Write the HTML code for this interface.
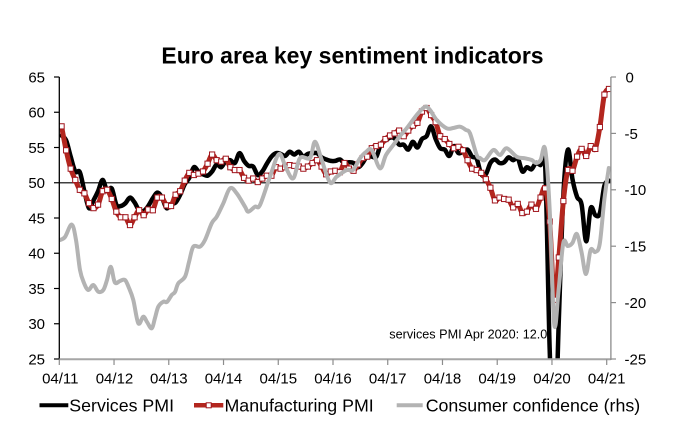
<!DOCTYPE html>
<html>
<head>
<meta charset="utf-8">
<style>
  html,body{margin:0;padding:0;background:#fff;}
  svg{display:block;}
  text{font-family:"Liberation Sans",Arial,sans-serif;fill:#000;}
</style>
</head>
<body>
<svg id="c" width="681" height="447" viewBox="0 0 681 447" xmlns="http://www.w3.org/2000/svg">
  <rect x="0" y="0" width="681" height="447" fill="#fff"/>
  <defs>
    <clipPath id="plot"><rect x="59.3" y="70" width="551.5" height="289.3"/></clipPath>
  </defs>

  <text x="352.5" y="63.5" font-size="23" font-weight="bold" text-anchor="middle">Euro area key sentiment indicators</text>

  <line x1="59.3" y1="182.8" x2="610.7" y2="182.8" stroke="#000" stroke-width="1.2"/>

  <g id="series" clip-path="url(#plot)"></g>

  <line x1="59.3" y1="77" x2="59.3" y2="359.5" stroke="#000" stroke-width="1.3"/>
  <line x1="59.3" y1="359.3" x2="610.7" y2="359.3" stroke="#a6a6a6" stroke-width="2"/>
  <line x1="610.9" y1="77" x2="610.9" y2="360" stroke="#8c8c8c" stroke-width="1.3"/>
  <g id="ticks"></g>

  <g font-size="15" text-anchor="end">
    <text x="45" y="82.4">65</text>
    <text x="45" y="117.7">60</text>
    <text x="45" y="152.9">55</text>
    <text x="45" y="188.2">50</text>
    <text x="45" y="223.4">45</text>
    <text x="45" y="258.7">40</text>
    <text x="45" y="293.9">35</text>
    <text x="45" y="329.2">30</text>
    <text x="45" y="364.4">25</text>
  </g>
  <g font-size="15" text-anchor="start">
    <text x="625.5" y="82.4">0</text>
    <text x="624.5" y="138.8">-5</text>
    <text x="624.5" y="195.2">-10</text>
    <text x="624.5" y="251.6">-15</text>
    <text x="624.5" y="308">-20</text>
    <text x="624.5" y="364.4">-25</text>
  </g>
  <g font-size="15" text-anchor="middle">
    <text x="60.3" y="383.5">04/11</text>
    <text x="114.5" y="383.5">04/12</text>
    <text x="168.8" y="383.5">04/13</text>
    <text x="223.5" y="383.5">04/14</text>
    <text x="278.3" y="383.5">04/15</text>
    <text x="333" y="383.5">04/16</text>
    <text x="387.7" y="383.5">04/17</text>
    <text x="442.5" y="383.5">04/18</text>
    <text x="497.2" y="383.5">04/19</text>
    <text x="552" y="383.5">04/20</text>
    <text x="606.7" y="383.5">04/21</text>
  </g>

  <text x="389.3" y="338.5" font-size="13" textLength="158" lengthAdjust="spacingAndGlyphs">services PMI Apr 2020: 12.0</text>

  <line x1="39.5" y1="405.3" x2="68.3" y2="405.3" stroke="#000" stroke-width="4"/>
  <text x="69.3" y="411.3" font-size="17.8">Services PMI</text>
  <line x1="194" y1="405.3" x2="223.3" y2="405.3" stroke="#b3261e" stroke-width="4.5"/>
  <rect x="206.2" y="402.8" width="5" height="5" fill="#fff" stroke="#a0141c" stroke-width="1"/>
  <text x="224.5" y="411.3" font-size="17.8">Manufacturing PMI</text>
  <line x1="396.7" y1="405.3" x2="422.7" y2="405.3" stroke="#b3b3b3" stroke-width="4"/>
  <text x="425.7" y="411.3" font-size="17.8">Consumer confidence (rhs)</text>
</svg>
<script>
(function(){
  var NS="http://www.w3.org/2000/svg";
  function X(i){return 59.3+4.5617*(i+0.5);}
  function YL(v){return 77+(65-v)*7.05;}
  function smooth(p){
    var d="M"+p[0][0].toFixed(2)+","+p[0][1].toFixed(2);
    for(var i=0;i<p.length-1;i++){
      var p0=p[i-1]||p[i],p1=p[i],p2=p[i+1],p3=p[i+2]||p[i+1];
      var c1x=p1[0]+(p2[0]-p0[0])/6,c1y=p1[1]+(p2[1]-p0[1])/6;
      var c2x=p2[0]-(p3[0]-p1[0])/6,c2y=p2[1]-(p3[1]-p1[1])/6;
      d+=" C"+c1x.toFixed(2)+","+c1y.toFixed(2)+" "+c2x.toFixed(2)+","+c2y.toFixed(2)+" "+p2[0].toFixed(2)+","+p2[1].toFixed(2);
    }
    return d;
  }
  var S=[56.7,56.0,53.7,51.6,51.5,48.8,46.4,47.5,48.8,
  50.4,48.8,49.2,46.9,46.7,47.1,47.9,47.2,46.1,46.0,46.7,47.8,
  48.6,47.9,46.4,47.0,47.2,48.3,49.8,50.7,52.2,51.6,51.2,51.0,
  51.6,52.6,52.2,53.1,53.2,52.8,54.2,53.1,52.4,52.3,51.1,51.6,
  52.7,53.7,54.2,54.1,53.8,54.4,54.0,54.4,53.7,54.1,54.2,54.2,
  53.6,53.3,53.1,53.1,53.3,52.8,52.9,52.8,52.2,52.8,53.8,53.7,
  53.7,55.5,56.0,56.4,56.3,55.4,55.4,54.7,55.8,55.0,56.2,56.6,
  58.0,56.2,54.9,54.7,53.8,55.2,54.2,54.4,54.7,53.7,53.4,51.2,
  51.2,52.8,53.3,52.8,52.9,53.6,53.2,53.5,51.6,52.2,51.9,52.8,
  52.5,52.6,26.4,12.0,30.5,48.3,54.7,50.5,48.0,46.9,41.7,46.4,
  45.4,45.7,49.6,50.3];
  var M=[58.0,54.6,52.0,50.4,49.0,48.5,47.1,46.4,46.9,
  48.8,49.0,47.7,45.9,45.1,45.1,44.0,45.1,46.1,45.4,46.2,46.1,
  47.9,47.9,46.8,46.7,48.3,48.8,50.3,51.4,51.1,51.3,51.6,52.7,
  54.0,53.2,53.0,53.4,52.2,51.8,51.8,50.7,50.3,50.6,50.1,50.6,
  51.0,51.0,52.2,52.0,52.2,52.5,52.4,52.3,52.0,52.3,52.8,53.2,
  52.3,51.2,51.6,51.7,51.5,52.8,52.0,51.7,52.6,53.5,53.7,54.9,
  55.2,55.4,56.2,56.7,57.0,57.4,56.6,57.4,58.1,58.5,60.1,60.6,
  59.6,58.6,56.6,56.2,55.5,54.9,55.1,54.6,53.2,52.0,51.8,51.4,
  50.5,49.3,47.5,47.9,47.7,47.6,46.5,47.0,45.7,45.9,46.9,46.3,
  47.9,49.2,44.5,33.4,39.4,47.4,51.8,51.7,53.7,54.8,53.8,55.2,
  54.8,57.9,62.5,63.3];
  var G=[[60,240],[65,237],[71.7,224.5],[76,240],[80,270],[84,283],[88.3,290],[93.3,285],[98.3,291.7],[103.3,290],[107,280],[110.7,266.7],[114,280],[116,283.3],[120,281],[125,280],[129,288],[133.3,300],[138.3,323.3],[143.3,316.7],[147,322],[151.7,328.3],[155,318],[158.3,306.7],[163.3,301.7],[167,302],[171.7,295],[175,292],[178.3,283.3],[185,276.7],[189,262],[193.3,246.7],[200,246.7],[205,240],[211.7,223.3],[216.7,216.7],[223.3,203.3],[230,188.3],[236.7,193.3],[245,206.7],[248.3,211.7],[255,206.7],[260,205],[270,176.7],[279,154],[286,168],[293.3,178.3],[300,158],[310,158],[315,141.7],[321.7,160],[330,182.5],[336.7,176.7],[346.7,170],[353,170],[360,158.3],[366,152],[371.7,150],[380,168.3],[386,155],[393.3,145],[400,136],[406.7,128.3],[416.7,115],[425,106.7],[430,110],[436.7,120],[446.7,128.3],[453.3,128],[460,126.7],[466,130],[470,133.3],[476.7,155],[480,158],[485,160],[493.3,150],[500,155],[506.7,148.3],[516.7,156.7],[525,158.3],[531.7,160],[536.1,163],[540.6,160],[545.1,149],[549.6,208],[554.2,324],[558.7,289],[563.3,243],[567.8,246],[572.4,243],[576.9,234],[581.5,252],[586,274],[590.6,250],[595.2,252],[599.7,244],[604.3,200],[608.8,168]];
  var g=document.getElementById("series");
  function path(d,col,w){var p=document.createElementNS(NS,"path");p.setAttribute("d",d);p.setAttribute("fill","none");p.setAttribute("stroke",col);p.setAttribute("stroke-width",w);p.setAttribute("stroke-linejoin","round");p.setAttribute("stroke-linecap","round");g.appendChild(p);}
  var sp=S.map(function(v,i){return [X(i),YL(v)];});
  var mp=M.map(function(v,i){return [X(i),YL(v)];});
  path(smooth(sp),"#000",4.5);
  path(smooth(mp),"#b3261e",5);
  mp.forEach(function(p){var r=document.createElementNS(NS,"rect");r.setAttribute("x",(p[0]-2.6).toFixed(2));r.setAttribute("y",(p[1]-2.6).toFixed(2));r.setAttribute("width",5.2);r.setAttribute("height",5.2);r.setAttribute("fill","#fff");r.setAttribute("stroke","#a0141c");r.setAttribute("stroke-width",1);g.appendChild(r);});
  path(smooth(G),"#b3b3b3",4);
  var t=document.getElementById("ticks");
  function ln(x1,y1,x2,y2,col){var l=document.createElementNS(NS,"line");l.setAttribute("x1",x1);l.setAttribute("y1",y1);l.setAttribute("x2",x2);l.setAttribute("y2",y2);l.setAttribute("stroke",col);l.setAttribute("stroke-width",1.2);t.appendChild(l);}
  for(var k=0;k<=8;k++){var y=77+k*35.25;ln(54,y,59.3,y,"#000");}
  for(var k=0;k<=5;k++){var y=77+k*56.4;ln(610.9,y,616,y,"#8c8c8c");}
  for(var k=0;k<=10;k++){var x=59.3+54.74*k;ln(x,359.3,x,365,"#8c8c8c");}
})();
</script>
</body>
</html>
